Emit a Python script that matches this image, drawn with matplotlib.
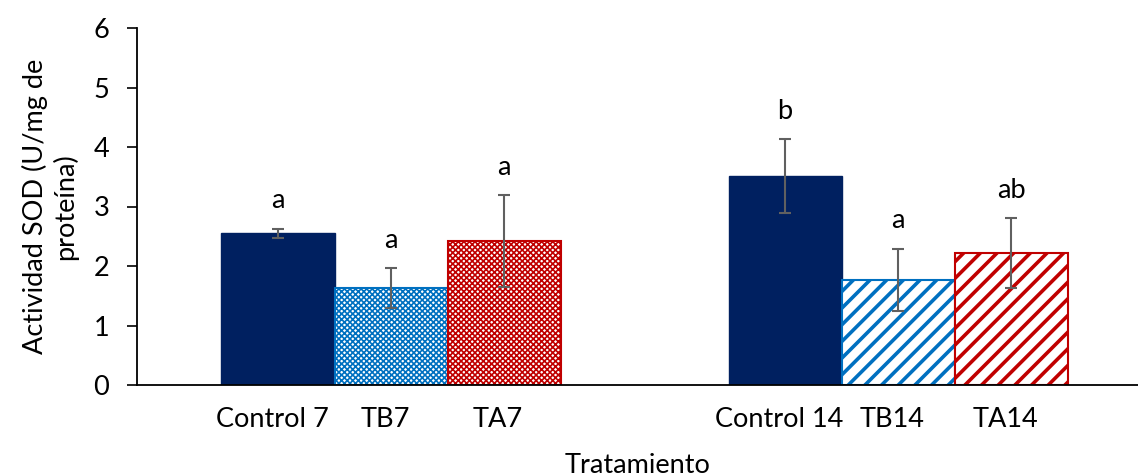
import matplotlib
matplotlib.use("Agg")
import matplotlib.pyplot as plt
import matplotlib.transforms as mtransforms
import numpy as np

plt.rcParams['font.family'] = ['Lato', 'DejaVu Sans']

# datos
grupos = [0, 1]
tratamientos = ['Control', 'TB', 'TA']
etiquetas = [['Control 7', 'TB7', 'TA7'], ['Control 14', 'TB14', 'TA14']]
medias = [[2.55, 1.63, 2.42], [3.51, 1.77, 2.22]]
errores = [[0.08, 0.33, 0.77], [0.62, 0.52, 0.59]]
letras = [['a', 'a', 'a'], ['b', 'a', 'ab']]

colores = ['#002060', '#0070C0', '#C00000']
tramas = [[None, 'xxxxxx', 'xxxxxx'], [None, '//', '//']]

fig = plt.figure(figsize=(11.38, 4.76), dpi=100)
ax = fig.add_axes([137 / 1138, 91 / 476, 1 - 137 / 1138, 357 / 476])

ancho = 0.223
fs = 19.5
xs, labs = [], []
for g in grupos:
    for i, t in enumerate(tratamientos):
        x = g + (i - 1) * ancho
        y = medias[g][i]
        e = errores[g][i]
        if tramas[g][i] is None:
            ax.bar(x, y, ancho, color=colores[i], edgecolor=colores[i], linewidth=1, zorder=2)
        else:
            plt.rcParams['hatch.linewidth'] = 1.2 if 'x' in tramas[g][i] else 2.6
            ax.bar(x, y, ancho, color='white', edgecolor=colores[i], hatch=tramas[g][i],
                   linewidth=1.5, zorder=2)
        ax.errorbar(x, y, yerr=e, fmt='none', ecolor='#606060', elinewidth=1.5,
                    capsize=4.5, capthick=1.5, zorder=3)
        ax.annotate(letras[g][i], (x, y + e), xytext=(0, 20), textcoords='offset points',
                    ha='center', va='center', fontsize=fs)
        xs.append(x)
        labs.append(etiquetas[g][i])

ax.set_ylim(0, 6)
ax.set_xlim(-0.501, 1.473)
ax.set_yticks(range(7))
ax.set_xticks(xs)
ax.set_xticklabels(labs)
ax.tick_params(axis='x', length=0, pad=16, labelsize=fs)
ax.tick_params(axis='y', length=7, width=1.2, labelsize=fs, pad=13)
desplazar = mtransforms.ScaledTranslation(-6 / 100, 0, fig.dpi_scale_trans)
for lab in ax.get_xticklabels():
    lab.set_transform(lab.get_transform() + desplazar)
ax.spines['top'].set_visible(False)
ax.spines['right'].set_visible(False)
ax.spines['left'].set_linewidth(1.3)
ax.spines['bottom'].set_linewidth(1.3)
ax.set_xlabel('Tratamiento', fontsize=fs, labelpad=15)
fig.text(50 / 1138, 0.566, 'Actividad SOD (U/mg de\nproteína)', rotation=90,
         ha='center', va='center', multialignment='center', fontsize=fs)

fig.savefig('out.png', dpi=100)
